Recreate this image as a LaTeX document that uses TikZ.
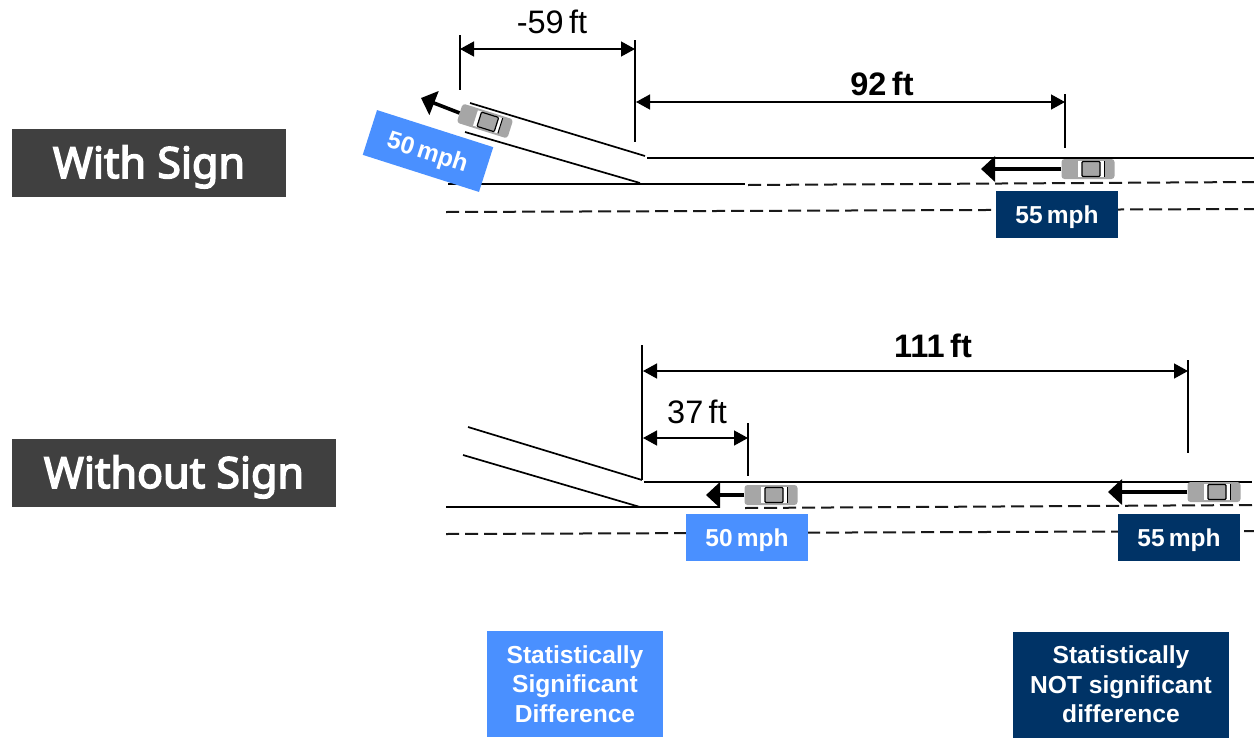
\documentclass[tikz,border=0pt]{standalone}
\usepackage{fontspec}
\setmainfont{Liberation Sans}
\newfontfamily\headfont[FakeBold=3.5]{Noto Sans}
\usetikzlibrary{arrows.meta,positioning}
\definecolor{Slate}{HTML}{404040}
\definecolor{Sky}{HTML}{4A90FF}
\definecolor{Navy}{HTML}{003366}
\definecolor{CarGray}{HTML}{A6A6A6}
\tikzset{
  sign/.style={
    fill=Slate, text=white, inner sep=0pt, minimum height=68pt,
    text height=30pt, text depth=0pt,
    font=\headfont\fontsize{43}{50}\selectfont
  },
  speed/.style={
    inner sep=0pt, text=white, minimum width=122pt, minimum height=47pt,
    text height=18pt, text depth=0pt,
    font=\fontsize{24.5}{29}\selectfont\bfseries
  },
  verdict/.style={
    inner sep=0pt, text=white, align=center, minimum height=106pt,
    font=\fontsize{24.6}{29.5}\selectfont\bfseries
  },
  dist/.style={inner sep=0pt, font=\fontsize{32.5}{38}\selectfont},
  road/.style={draw=black, line width=2pt},
  ramp/.style={draw=black, line width=1.7pt},
  lane/.style={draw=black!90, line width=2pt, dash pattern=on 13pt off 6pt},
  tick/.style={draw=black, line width=2pt},
  span/.style={{Triangle[length=14pt,width=15pt]}-{Triangle[length=14pt,width=15pt]}, draw=black, line width=1.4pt},
  motion/.style={-{Triangle[length=14pt,width=25pt]}, draw=black, line width=3.6pt},
  pics/car/.style={code={
    \node[fill=CarGray, rounded corners=3pt, minimum width=53pt, minimum height=20pt, inner sep=0pt, transform shape] (-body) at (0,0) {};
    \fill[white] (-10,-8) rectangle (16,8);
    \draw[black, line width=1pt] (16,-8) -- (16,8);
    \draw[black, line width=1.2pt, fill=CarGray, rounded corners=1pt] (-6,-7.5) rectangle (12,7.5);
  }}
}
\begin{document}
\begin{tikzpicture}[x=1pt,y=-1pt]
  \useasboundingbox (0,0) rectangle (1254,737);
  \coordinate (r1a) at (647,158); \coordinate (r1b) at (1254,158);
  \coordinate (m1a) at (470,103); \coordinate (m1b) at (645,156);
  \coordinate (m2a) at (465,132); \coordinate (m2b) at (640,183);
  \coordinate (s1a) at (448,184); \coordinate (s1b) at (745,184);
  \coordinate (d1a) at (748,185); \coordinate (d1b) at (1254,182);
  \coordinate (d2a) at (446,212); \coordinate (d2b) at (1254,209);
  \draw[road] (r1a) -- (r1b);
  \draw[ramp] (m1a) -- (m1b);
  \draw[ramp] (m2a) -- (m2b);
  \draw[road] (s1a) -- (s1b);
  \draw[lane] (d1a) -- (d1b);
  \draw[lane] (d2a) -- (d2b);

  \coordinate (t1a) at (460,35); \coordinate (t1b) at (460,90);
  \coordinate (t2a) at (635,40); \coordinate (t2b) at (635,142);
  \coordinate (t3a) at (1065,94); \coordinate (t3b) at (1065,148);
  \draw[tick] (t1a) -- (t1b);
  \draw[tick] (t2a) -- (t2b);
  \draw[tick] (t3a) -- (t3b);
  \coordinate (a1l) at (460,49); \coordinate (a1r) at (635,49);
  \coordinate (a2l) at (636,102); \coordinate (a2r) at (1065,102);
  \draw[span] (a1l) -- (a1r);
  \draw[span] (a2l) -- (a2r);
  \node[dist] (gapMerge) at (552,22) {-59\,ft};
  \node[dist,font=\fontsize{32.5}{38}\selectfont\bfseries] (gapMain) at (882,84) {92\,ft};

  \pic (carRamp) at (485,121) [rotate=-17.5] {car};
  \coordinate (tipRamp) at (421,98);
  \draw[motion] (carRamp-body.west) -- (tipRamp);
  \pic (carMain) at (1088,169) {car};
  \coordinate (tipMain) at (981,169);
  \draw[motion] (carMain-body.west) -- (tipMain);
  \node[speed,fill=Sky,rotate=-17.7] (speedRamp) at (428,151) {50\,mph};
  \node[speed,fill=Navy] (speedMain) at (1057,214) {55\,mph};

  \node[sign,minimum width=274pt] (withSign) at (149,163) {With Sign};

  \coordinate (r2a) at (644,482); \coordinate (r2b) at (1252,482);
  \coordinate (m3a) at (468,427); \coordinate (m3b) at (642,480);
  \coordinate (m4a) at (463,455); \coordinate (m4b) at (640,507);
  \coordinate (s2a) at (446,507); \coordinate (s2b) at (720,507);
  \coordinate (d3a) at (745,508); \coordinate (d3b) at (1254,505);
  \coordinate (d4a) at (446,534); \coordinate (d4b) at (1254,531);
  \draw[road] (r2a) -- (r2b);
  \draw[ramp] (m3a) -- (m3b);
  \draw[ramp] (m4a) -- (m4b);
  \draw[road] (s2a) -- (s2b);
  \draw[lane] (d3a) -- (d3b);
  \draw[lane] (d4a) -- (d4b);

  \coordinate (t4a) at (642,345); \coordinate (t4b) at (642,480);
  \coordinate (t5a) at (748,423); \coordinate (t5b) at (748,476);
  \coordinate (t6a) at (1188,360); \coordinate (t6b) at (1188,453);
  \draw[tick] (t4a) -- (t4b);
  \draw[tick] (t5a) -- (t5b);
  \draw[tick] (t6a) -- (t6b);
  \coordinate (a3l) at (643,371); \coordinate (a3r) at (1188,371);
  \coordinate (a4l) at (643,438); \coordinate (a4r) at (748,438);
  \draw[span] (a3l) -- (a3r);
  \draw[span] (a4l) -- (a4r);
  \node[dist,font=\fontsize{32.5}{38}\selectfont\bfseries] (gapFar) at (933,346) {111\,ft};
  \node[dist] (gapNear) at (697,412) {37\,ft};

  \pic (carNear) at (771,495) {car};
  \coordinate (tipNear) at (706,495);
  \draw[motion] (carNear-body.west) -- (tipNear);
  \pic (carFar) at (1214,492) {car};
  \coordinate (tipFar) at (1108,492);
  \draw[motion] (carFar-body.west) -- (tipFar);
  \node[speed,fill=Sky] (speedNear) at (747,537) {50\,mph};
  \node[speed,fill=Navy] (speedFar) at (1179,537) {55\,mph};

  \node[sign,minimum width=324pt] (withoutSign) at (174,473) {Without Sign};

  \node[verdict,fill=Sky,minimum width=176pt] (verdictSky) at (575,684) {Statistically\\Significant\\Difference};
  \node[verdict,fill=Navy,minimum width=216pt] (verdictNavy) at (1121,684.5) {Statistically\\NOT significant\\difference};
\end{tikzpicture}
\end{document}
